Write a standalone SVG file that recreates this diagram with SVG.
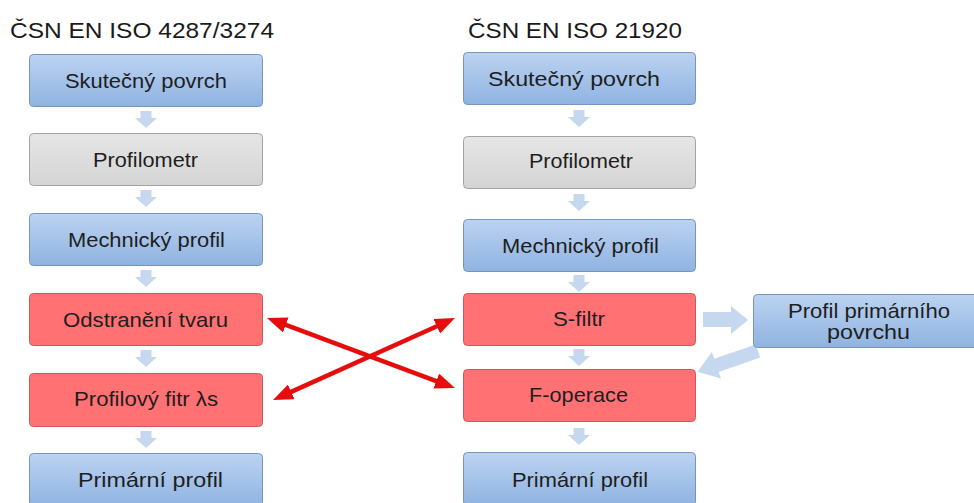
<svg xmlns="http://www.w3.org/2000/svg" width="974" height="503" viewBox="0 0 974 503">
  <defs>
    <linearGradient id="gBlue" x1="0" y1="0" x2="0" y2="1">
      <stop offset="0" stop-color="#bcd3f1"/>
      <stop offset="1" stop-color="#8fb3e1"/>
    </linearGradient>
    <linearGradient id="gGray" x1="0" y1="0" x2="0" y2="1">
      <stop offset="0" stop-color="#e6e6e6"/>
      <stop offset="1" stop-color="#d4d4d4"/>
    </linearGradient>
    <path id="dn" d="M-5.5,0 H5.5 V7 H11 L0,17 L-11,7 H-5.5 Z"/>
    <marker id="redHead" markerUnits="userSpaceOnUse" markerWidth="20" markerHeight="16" refX="5" refY="8" orient="auto-start-reverse">
      <path d="M0,0 L20,8 L0,16 Z" fill="#e60d0d"/>
    </marker>
  </defs>
  <style>
    .blue { fill: url(#gBlue); stroke: #7595bf; stroke-width: 1; }
    .gray { fill: url(#gGray); stroke: #a3a3a3; stroke-width: 1; }
    .red { fill: #ff7173; stroke: #c9595c; stroke-width: 1; }
    .lbl { font-family: "Liberation Sans", Arial, sans-serif; font-size: 21px; fill: #1e1e1e; }
    .ttl { font-family: "Liberation Sans", Arial, sans-serif; font-size: 22px; fill: #1a1a1a; }
    .flow { fill: #c5d8ef; }
    .cross { stroke: #e60d0d; stroke-width: 4.5; fill: none; marker-start: url(#redHead); marker-end: url(#redHead); }
  </style>
  <rect width="974" height="503" fill="#ffffff"/>

  <!-- column headings -->
  <text class="ttl" x="10" y="38" textLength="264" lengthAdjust="spacingAndGlyphs">ČSN EN ISO 4287/3274</text>
  <text class="ttl" x="468" y="38" textLength="214" lengthAdjust="spacingAndGlyphs">ČSN EN ISO 21920</text>

  <!-- connectors -->
  <g id="connectors">
    <g class="flow">
      <use href="#dn" x="146" y="111"/>
      <use href="#dn" x="146" y="190"/>
      <use href="#dn" x="146" y="270"/>
      <use href="#dn" x="146" y="350"/>
      <use href="#dn" x="146" y="431"/>
      <use href="#dn" x="579" y="110"/>
      <use href="#dn" x="579" y="194"/>
      <use href="#dn" x="579" y="275"/>
      <use href="#dn" x="579" y="349"/>
      <use href="#dn" x="579" y="428"/>
      <path d="M703,312 H731 V306 L748,320 L731,334 V327 H703 Z"/>
      <path transform="translate(758,351) rotate(161)" d="M0,-7 H44 V-14 L64,0 L44,14 V7 H0 Z"/>
    </g>
    <line class="cross" x1="281.1" y1="323.2" x2="440.9" y2="382.8"/>
    <line class="cross" x1="286.7" y1="393.9" x2="441.3" y2="324.2"/>
  </g>

  <!-- left column: ČSN EN ISO 4287/3274 -->
  <g id="l-skutecny">
    <rect class="blue" x="29.5" y="54.5" width="233" height="52" rx="4"/>
    <text class="lbl" x="65" y="88" textLength="162" lengthAdjust="spacingAndGlyphs">Skutečný povrch</text>
  </g>
  <g id="l-profilometr">
    <rect class="gray" x="29.5" y="133.5" width="233" height="52" rx="4"/>
    <text class="lbl" x="93" y="167" textLength="105" lengthAdjust="spacingAndGlyphs">Profilometr</text>
  </g>
  <g id="l-mechanicky">
    <rect class="blue" x="29.5" y="213.5" width="233" height="52" rx="4"/>
    <text class="lbl" x="68" y="247" textLength="157" lengthAdjust="spacingAndGlyphs">Mechnický profil</text>
  </g>
  <g id="l-odstraneni">
    <rect class="red" x="29.5" y="293.5" width="233" height="52" rx="4"/>
    <text class="lbl" x="63" y="327" textLength="165" lengthAdjust="spacingAndGlyphs">Odstranění tvaru</text>
  </g>
  <g id="l-filtr">
    <rect class="red" x="29.5" y="373.5" width="233" height="53" rx="4"/>
    <text class="lbl" x="74" y="406" textLength="144" lengthAdjust="spacingAndGlyphs">Profilový fitr λs</text>
  </g>
  <g id="l-primarni">
    <rect class="blue" x="29.5" y="453.5" width="233" height="53" rx="4"/>
    <text class="lbl" x="78" y="487" textLength="145" lengthAdjust="spacingAndGlyphs">Primární profil</text>
  </g>

  <!-- right column: ČSN EN ISO 21920 -->
  <g id="r-skutecny">
    <rect class="blue" x="463.5" y="52.5" width="232" height="52" rx="4"/>
    <text class="lbl" x="488" y="86" textLength="172" lengthAdjust="spacingAndGlyphs">Skutečný povrch</text>
  </g>
  <g id="r-profilometr">
    <rect class="gray" x="463.5" y="136.5" width="232" height="52" rx="4"/>
    <text class="lbl" x="529" y="168" textLength="104" lengthAdjust="spacingAndGlyphs">Profilometr</text>
  </g>
  <g id="r-mechanicky">
    <rect class="blue" x="463.5" y="219.5" width="232" height="52" rx="4"/>
    <text class="lbl" x="502" y="253" textLength="157" lengthAdjust="spacingAndGlyphs">Mechnický profil</text>
  </g>
  <g id="r-sfiltr">
    <rect class="red" x="463.5" y="293.5" width="232" height="52" rx="4"/>
    <text class="lbl" x="553" y="326" textLength="52" lengthAdjust="spacingAndGlyphs">S-filtr</text>
  </g>
  <g id="r-foperace">
    <rect class="red" x="463.5" y="369.5" width="232" height="52" rx="4"/>
    <text class="lbl" x="529" y="402" textLength="99" lengthAdjust="spacingAndGlyphs">F-operace</text>
  </g>
  <g id="r-primarni">
    <rect class="blue" x="463.5" y="452.5" width="232" height="53" rx="4"/>
    <text class="lbl" x="512" y="487" textLength="136" lengthAdjust="spacingAndGlyphs">Primární profil</text>
  </g>
  <g id="r-primarni-povrch">
    <rect class="blue" x="753.5" y="294.5" width="226" height="53" rx="4"/>
    <text class="lbl" x="788" y="318" textLength="162" lengthAdjust="spacingAndGlyphs">Profil primárního</text>
    <text class="lbl" x="827" y="339" textLength="83" lengthAdjust="spacingAndGlyphs">povrchu</text>
  </g>
</svg>
